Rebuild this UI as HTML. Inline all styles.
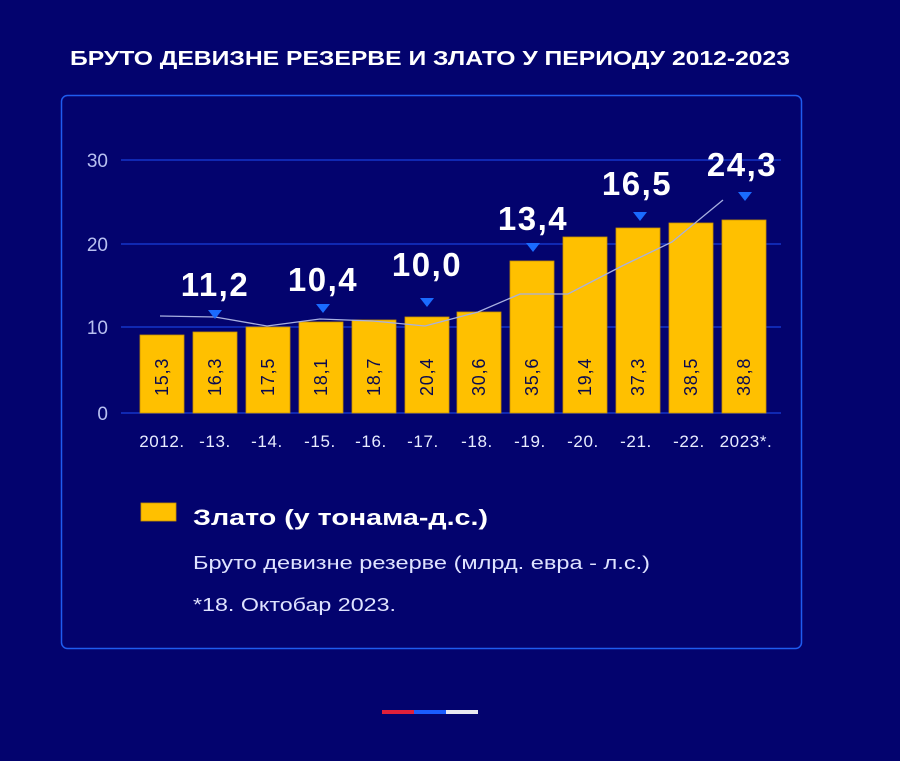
<!DOCTYPE html>
<html><head><meta charset="utf-8"><style>
html,body{margin:0;padding:0;background:#03036e;}
body{width:900px;height:756px;overflow:hidden;font-family:"Liberation Sans","DejaVu Sans",sans-serif;}
</style></head><body>
<svg width="900" height="756" xmlns="http://www.w3.org/2000/svg" font-family="Liberation Sans, DejaVu Sans, sans-serif">
<rect width="900" height="756" fill="#03036e"/>
<text x="70" y="65" fill="#fff" font-size="20.5" font-weight="bold" textLength="720" lengthAdjust="spacingAndGlyphs">БРУТО ДЕВИЗНЕ РЕЗЕРВЕ И ЗЛАТО У ПЕРИОДУ 2012-2023</text>
<rect x="61.5" y="95.5" width="740" height="553" rx="6" fill="none" stroke="#1f5cf0" stroke-width="1.5"/>
<g stroke="#1434c8" stroke-width="1.5">
<line x1="121" y1="160" x2="781" y2="160"/><line x1="121" y1="244" x2="781" y2="244"/>
<line x1="121" y1="327" x2="781" y2="327"/><line x1="121" y1="413" x2="781" y2="413"/>
</g>
<g fill="#b8c0f0" font-size="19" text-anchor="end">
<text x="108" y="167">30</text><text x="108" y="251">20</text><text x="108" y="334">10</text><text x="108" y="420">0</text>
</g>
<g fill="#ffc000" stroke="#c89000" stroke-width="0.8">
<rect x="140" y="335" width="44" height="78"/><rect x="193" y="332" width="44" height="81"/>
<rect x="246" y="327" width="44" height="86"/><rect x="299" y="322" width="44" height="91"/>
<rect x="352" y="320" width="44" height="93"/><rect x="405" y="317" width="44" height="96"/>
<rect x="457" y="312" width="44" height="101"/><rect x="510" y="261" width="44" height="152"/>
<rect x="563" y="237" width="44" height="176"/><rect x="616" y="228" width="44" height="185"/>
<rect x="669" y="223" width="44" height="190"/><rect x="722" y="220" width="44" height="193"/>
</g>
<g fill="#0a0a50" font-size="18" letter-spacing="0.8">
<text transform="translate(168,396) rotate(-90)">15,3</text>
<text transform="translate(221,396) rotate(-90)">16,3</text>
<text transform="translate(274,396) rotate(-90)">17,5</text>
<text transform="translate(327,396) rotate(-90)">18,1</text>
<text transform="translate(380,396) rotate(-90)">18,7</text>
<text transform="translate(433,396) rotate(-90)">20,4</text>
<text transform="translate(485,396) rotate(-90)">30,6</text>
<text transform="translate(538,396) rotate(-90)">35,6</text>
<text transform="translate(591,396) rotate(-90)">19,4</text>
<text transform="translate(644,396) rotate(-90)">37,3</text>
<text transform="translate(697,396) rotate(-90)">38,5</text>
<text transform="translate(750,396) rotate(-90)">38,8</text>
</g>
<polyline points="160,316 215,317 267,326 320,319 373,321 425,326 478,312 520,294 568,294 622,266 672,242 723,200" fill="none" stroke="#a8b0e0" stroke-width="1.3"/>
<g fill="#1a6bff">
<path d="M208,310h14l-7,9z"/><path d="M316,304h14l-7,9z"/><path d="M420,298h14l-7,9z"/>
<path d="M526,243h14l-7,9z"/><path d="M633,212h14l-7,9z"/><path d="M738,192h14l-7,9z"/>
</g>
<g fill="#fff" font-size="33" font-weight="bold" text-anchor="middle" letter-spacing="1.5">
<text x="215" y="296">11,2</text><text x="323" y="291">10,4</text><text x="427" y="276">10,0</text>
<text x="533" y="230">13,4</text><text x="637" y="195">16,5</text><text x="742" y="176">24,3</text>
</g>
<g fill="#e8ecff" font-size="17" text-anchor="middle" letter-spacing="0.6">
<text x="162" y="447">2012.</text><text x="215" y="447">-13.</text><text x="267" y="447">-14.</text>
<text x="320" y="447">-15.</text><text x="371" y="447">-16.</text><text x="423" y="447">-17.</text>
<text x="477" y="447">-18.</text><text x="530" y="447">-19.</text><text x="583" y="447">-20.</text>
<text x="636" y="447">-21.</text><text x="689" y="447">-22.</text><text x="746" y="447">2023*.</text>
</g>
<rect x="141" y="503" width="35" height="18" fill="#ffc000" stroke="#c89000" stroke-width="0.8"/>
<text x="193" y="525" fill="#fff" font-size="22" font-weight="bold" textLength="295" lengthAdjust="spacingAndGlyphs">Злато (у тонама-д.с.)</text>
<text x="193" y="569" fill="#dfe3ff" font-size="18" textLength="457" lengthAdjust="spacingAndGlyphs">Бруто девизне резерве (млрд. евра - л.с.)</text>
<text x="193" y="611" fill="#dfe3ff" font-size="18" textLength="203" lengthAdjust="spacingAndGlyphs">*18. Октобар 2023.</text>
<rect x="382" y="710" width="32" height="4" fill="#e0203a"/>
<rect x="414" y="710" width="32" height="4" fill="#1a5cff"/>
<rect x="446" y="710" width="32" height="4" fill="#e8e8f0"/>
</svg>
</body></html>
